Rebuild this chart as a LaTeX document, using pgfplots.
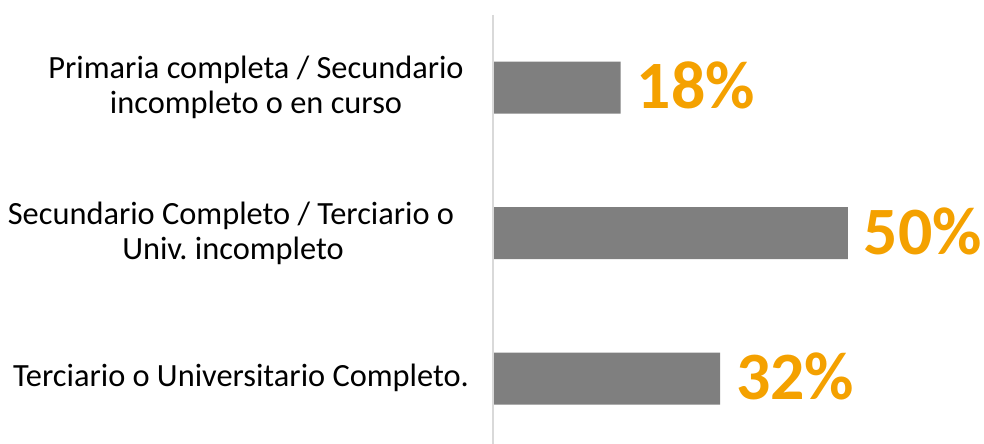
\documentclass[border=0pt]{standalone}
\usepackage{pgfplots}
\pgfplotsset{compat=1.18}
\usepackage{fontspec}
\setmainfont{Carlito}
\definecolor{barg}{HTML}{7F7F7F}
\definecolor{lab}{HTML}{F4A100}
\definecolor{axg}{HTML}{D9D9D9}
\frenchspacing
\begin{document}
\begin{tikzpicture}[x=1bp,y=1bp]
\path[use as bounding box] (0,0) rectangle (984,444);
\begin{axis}[
  at={(493bp,0bp)}, anchor=south west,
  scale only axis,
  width=491bp, height=429bp,
  xbar, bar width=52bp,
  xmin=0, xmax=69.2,
  ymin=-0.5, ymax=2.45, y dir=reverse,
  axis lines=none,
  xtick=\empty, ytick=\empty,
  /pgf/number format/assume math mode=true,
  nodes near coords={\pgfmathprintnumber{\pgfplotspointmeta}\%},
  nodes near coords style={anchor=west, inner sep=0pt, xshift=16bp, yshift=2bp, text=lab, font=\fontsize{68}{74}\selectfont\bfseries},
  point meta=x,
  clip=false,
]
\addplot[fill=barg, draw=none] coordinates {(18,0) (50,1) (32,2)};
\draw[axg, line width=1.2bp] (axis cs:0,-0.5) -- (axis cs:0,2.45);
\end{axis}
\begin{scope}[every node/.style={anchor=base, inner sep=0pt, font=\fontsize{32.5}{36}\selectfont}]
\node at (256,{444-79}) {Primaria completa / Secundario};
\node at (256,{444-114}) {incompleto o en curso};
\node at (231,{444-225}) {Secundario Completo / Terciario o};
\node at (233,{444-260}) {Univ. incompleto};
\node at (241,{444-387}) {Terciario o Universitario Completo.};
\end{scope}
\end{tikzpicture}
\end{document}
